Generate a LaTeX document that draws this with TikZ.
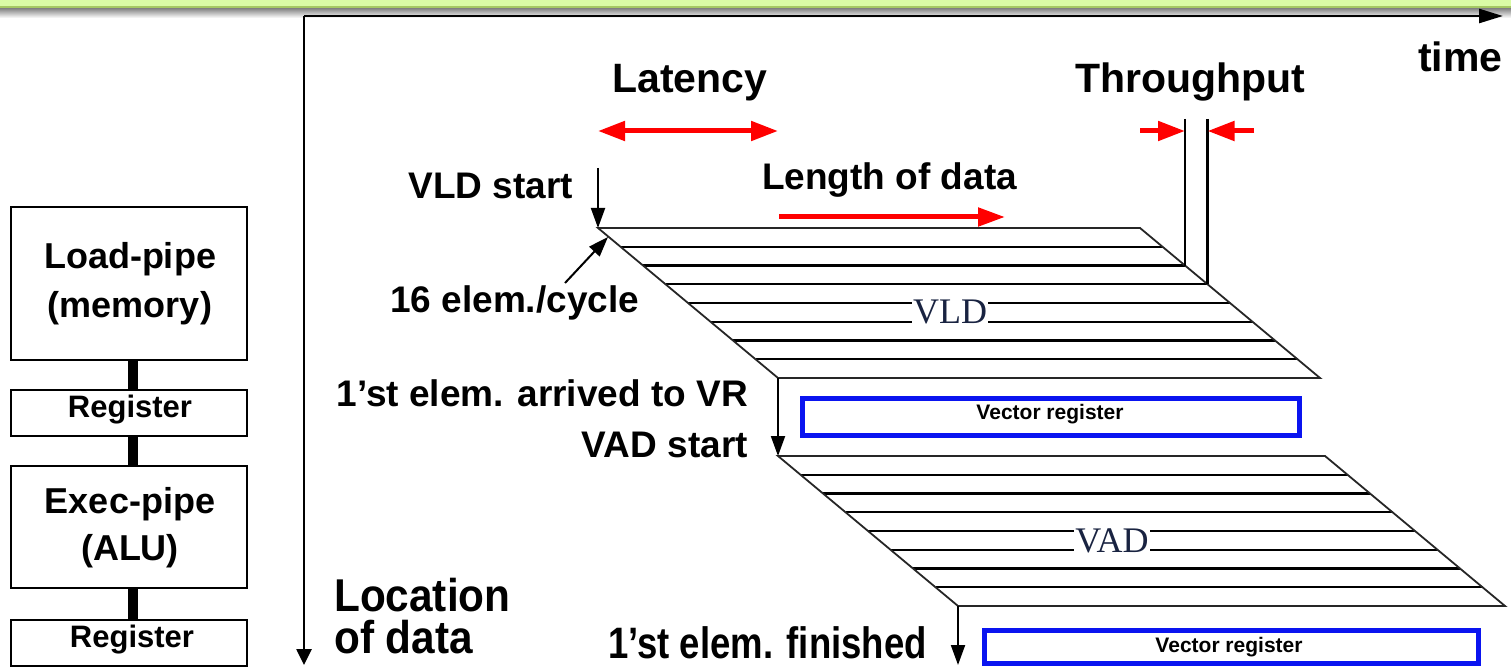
\documentclass[tikz,border=0pt]{standalone}
\usepackage{fontspec}
\setmainfont{Liberation Sans}
\newfontfamily\timesfam{Liberation Serif}
\newfontfamily\narrowfam{Liberation Sans}[FakeStretch=0.83]
\newfontfamily\semifam{Liberation Sans}[FakeStretch=0.92]
\usetikzlibrary{arrows.meta}
\definecolor{bandgreen}{RGB}{218,251,166}
\definecolor{banddark}{RGB}{165,200,100}
\definecolor{arrowred}{RGB}{255,0,0}
\definecolor{vrblue}{RGB}{10,20,240}
\definecolor{navy}{RGB}{25,35,65}
\begin{document}
\begin{tikzpicture}[x=1pt,y=-1pt,
  lbl/.style={inner sep=0pt, anchor=base west, font=\bfseries\fontsize{37}{44}\selectfont},
  lble/.style={lbl, anchor=base east},
  headlbl/.style={inner sep=0pt, anchor=base west, font=\bfseries\fontsize{41}{48}\selectfont},
  narrowlbl/.style={inner sep=0pt, font=\narrowfam\bfseries\fontsize{44}{50}\selectfont},
  loclbl/.style={inner sep=0pt, anchor=base west, font=\semifam\bfseries\fontsize{46}{50}\selectfont},
  stagebox/.style={draw, line width=2pt, minimum width=236pt, inner sep=0pt},
  stagetxt/.style={inner sep=0pt, anchor=base, font=\bfseries\fontsize{36}{44}\selectfont},
  regtxt/.style={stagetxt, font=\bfseries\fontsize{31}{36}\selectfont},
  bar/.style={line width=10pt},
  vreg/.style={draw=vrblue, line width=5pt, inner sep=0pt},
  vregtxt/.style={inner sep=0pt, anchor=base, font=\bfseries\fontsize{21}{24}\selectfont},
  axisline/.style={line width=2.6pt},
  ptr/.style={line width=2pt, -{Triangle[length=20pt,width=14pt]}},
  redarr/.style={draw=arrowred, line width=5pt, -{Triangle[length=27pt,width=19pt]}},
  stripe/.style={line width=2.4pt},
  rimline/.style={line width=1.8pt, black!85},
  thru/.style={line width=2.6pt},
  optext/.style={inner sep=1pt, fill=white, text=navy, font=\timesfam\fontsize{36}{38}\selectfont}
]
\useasboundingbox (0,0) rectangle (1511,668);

% title band with its shadow
\fill[bandgreen] (0,0) rectangle (1511,6.5);
\fill[banddark] (0,6.5) rectangle (1511,9);
\shade[top color=black!45, bottom color=white] (0,9) rectangle (1511,18);

% axes
\coordinate (origin) at (304,16);
\coordinate (timeend) at (1503,16);
\coordinate (locend) at (304,665);
\draw[axisline, -{Triangle[length=24pt,width=14pt]}] (origin) -- (timeend);
\draw[axisline, -{Triangle[length=16pt,width=15pt]}] (origin) -- (locend);
\node[headlbl] (time) at (1418,72) {time};
\node[loclbl] (loc1) at (334,611) {Location};
\node[loclbl] (loc2) at (334,653) {of data};

% pipeline stages
\node[stagebox, minimum height=153pt] (load) at (129,283.5) {};
\node[stagetxt] (loadA) at (130,269) {Load-pipe};
\node[stagetxt] (loadB) at (130,317) {(memory)};
\node[stagebox, minimum height=46pt] (reg1) at (129,413) {};
\node[regtxt] (reg1t) at (130,417) {Register};
\node[stagebox, minimum height=122pt] (exec) at (129,527) {};
\node[stagetxt] (execA) at (130,513) {Exec-pipe};
\node[stagetxt] (execB) at (130,560) {(ALU)};
\node[stagebox, minimum height=46pt] (reg2) at (129,643) {};
\node[regtxt] (reg2t) at (132,647) {Register};
\draw[bar] ([xshift=4pt]load.south) -- ([xshift=4pt]reg1.north);
\draw[bar] ([xshift=4pt]reg1.south) -- ([xshift=4pt]exec.north);
\draw[bar] ([xshift=4pt]exec.south) -- ([xshift=4pt]reg2.north);

% VLD block
\coordinate (vldTL) at (598,228);
\coordinate (vldTR) at (1140,228);
\coordinate (vldBL) at (778,378);
\coordinate (vldBR) at (1320,378);
\foreach \i in {1,...,7}
  \draw[stripe] ({598+22.5*\i},{228+18.75*\i}) -- ({1140+22.5*\i},{228+18.75*\i});
\draw[rimline] (vldTL) -- (vldTR) -- (vldBR) -- (vldBL) -- cycle;
\node[optext] (vld) at (950,312.4) {VLD};

% VAD block
\coordinate (vadTL) at (778,456);
\coordinate (vadTR) at (1325,456);
\coordinate (vadBL) at (958,606);
\coordinate (vadBR) at (1505,606);
\foreach \i in {1,...,7}
  \draw[stripe] ({778+22.5*\i},{456+18.75*\i}) -- ({1325+22.5*\i},{456+18.75*\i});
\draw[rimline] (vadTL) -- (vadTR) -- (vadBR) -- (vadBL) -- cycle;
\node[optext] (vad) at (1112,540.4) {VAD};

% vector registers
\node[vreg, minimum width=497pt, minimum height=37pt] (vr1) at (1051,417) {};
\node[vregtxt] (vr1t) at (1050,419) {Vector register};
\node[vreg, minimum width=494pt, minimum height=33pt] (vr2) at (1231.5,647) {};
\node[vregtxt] (vr2t) at (1229,652) {Vector register};

% latency and throughput
\node[headlbl] (lat) at (612,93) {Latency};
\node[headlbl] (thr) at (1075,93) {Throughput};
\coordinate (latL) at (598,131);
\coordinate (latR) at (778,131);
\draw[redarr, {Triangle[length=27pt,width=19pt]}-{Triangle[length=27pt,width=19pt]}] (latL) -- (latR);
\coordinate (thrA) at (1185,119);
\coordinate (thrAend) at (1185,265.5);
\coordinate (thrB) at (1207.5,119);
\coordinate (thrBend) at (1207.5,284.25);
\draw[thru] (thrA) -- (thrAend);
\draw[thru] (thrB) -- (thrBend);
\coordinate (thrLtail) at (1140,131);
\coordinate (thrLtip) at (1185,131);
\coordinate (thrRtail) at (1254,131);
\coordinate (thrRtip) at (1207.5,131);
\draw[redarr] (thrLtail) -- (thrLtip);
\draw[redarr] (thrRtail) -- (thrRtip);

% length of data
\node[lbl] (len) at (762,190) {Length of data};
\coordinate (lenA) at (779,217);
\coordinate (lenB) at (1005,217);
\draw[redarr, -{Triangle[length=27pt,width=18pt]}] (lenA) -- (lenB);

% event markers
\node[lble] (vldstart) at (573,199) {VLD start};
\coordinate (vldstartTail) at (598,168);
\draw[ptr] (vldstartTail) -- (vldTL);
\node[lbl] (rate) at (390,312) {16 elem./cycle};
\coordinate (rateTail) at (565,283);
\coordinate (rateTip) at (608,237);
\draw[ptr] (rateTail) -- (rateTip);
\node[lble] (arrived) at (748,406) {1’st elem. arrived to VR};
\node[lble] (vadstart) at (748,457) {VAD start};
\draw[ptr] (vldBL) -- (vadTL);
\node[narrowlbl, anchor=base east] (finished) at (927,658) {1’st elem. finished};
\coordinate (finTip) at (958,665);
\draw[ptr] (vadBL) -- (finTip);
\end{tikzpicture}
\end{document}
